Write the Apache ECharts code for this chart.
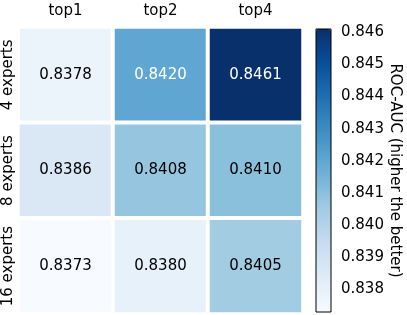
<!DOCTYPE html>
<html>
<head>
<meta charset="utf-8">
<script src="https://cdn.jsdelivr.net/npm/echarts@6/dist/echarts.min.js"></script>
<style>html,body{margin:0;padding:0;background:#fff}#c{width:407px;height:315px}</style>
</head>
<body>
<div id="c"></div>
<script>
const xCategories = ['top1', 'top2', 'top4'];
const yCategories = ['4 experts', '8 experts', '16 experts'];
const row4 = [0.8378, 0.8420, 0.8461];
const row8 = [0.8386, 0.8408, 0.8410];
const row16 = [0.8373, 0.8380, 0.8405];
const colorbarTicks = [0.838, 0.839, 0.840, 0.841, 0.842, 0.843, 0.844, 0.845, 0.846];
const vMin = 0.8373, vMax = 0.8461;

const blues = ['#f7fbff','#deebf7','#c6dbef','#9ecae1','#6baed6','#4292c6','#2171b5','#08519c','#08306b'];
const FONT = 'DejaVu Sans';
const rows = [row4, row8, row16];
const data = [];
rows.forEach((r, yi) => r.forEach((v, xi) => {
  const t = (v - vMin) / (vMax - vMin);
  data.push({value: [xi, yi, v], label: {color: t > 0.5 ? '#ffffff' : '#000000'}});
}));

const chart = echarts.init(document.getElementById('c'), null, {renderer: 'canvas'});
chart.setOption({
  animation: false,
  backgroundColor: '#ffffff',
  grid: [
    {left: 18, top: 27, width: 285, height: 287},
    {left: 316, top: 29, width: 15, height: 283, show: true, borderColor: '#000', borderWidth: 1, backgroundColor: 'transparent', z: 10}
  ],
  xAxis: [
    {type: 'category', gridIndex: 0, data: xCategories, position: 'top',
     axisLine: {show: false}, axisTick: {show: false}, splitLine: {show: false},
     axisLabel: {fontFamily: FONT, fontSize: 15, color: '#000', margin: 8, interval: 0}},
    {type: 'value', gridIndex: 1, show: false, min: 0, max: 1}
  ],
  yAxis: [
    {type: 'category', gridIndex: 0, data: yCategories, inverse: true,
     axisLine: {show: false}, axisTick: {show: false}, splitLine: {show: false},
     axisLabel: {fontFamily: FONT, fontSize: 15, color: '#000', rotate: 90, margin: 2, interval: 0, hideOverlap: false}},
    {type: 'value', gridIndex: 1, position: 'right', min: vMin, max: vMax,
     axisLine: {show: false}, splitLine: {show: false},
     axisTick: {show: true, length: 4, lineStyle: {color: '#000', width: 1}, customValues: colorbarTicks},
     axisLabel: {fontFamily: FONT, fontSize: 15, color: '#000', margin: 10, customValues: colorbarTicks,
                 formatter: v => v.toFixed(3)},
     name: 'ROC-AUC (higher the better)', nameLocation: 'middle', nameRotate: -90, nameGap: 55,
     nameTextStyle: {fontFamily: FONT, fontSize: 15, color: '#000'}}
  ],
  visualMap: {
    type: 'continuous', min: vMin, max: vMax, calculable: false, show: true,
    seriesIndex: 0, left: 316, top: 29, itemWidth: 15, itemHeight: 283, padding: 0,
    inRange: {color: blues}, hoverLink: false
  },
  series: [{
    type: 'heatmap', xAxisIndex: 0, yAxisIndex: 0, data: data,
    itemStyle: {borderColor: '#ffffff', borderWidth: 4},
    label: {show: true, fontFamily: FONT, fontSize: 15, formatter: p => p.value[2].toFixed(4)},
    emphasis: {disabled: true}
  }]
});
</script>
</body>
</html>
